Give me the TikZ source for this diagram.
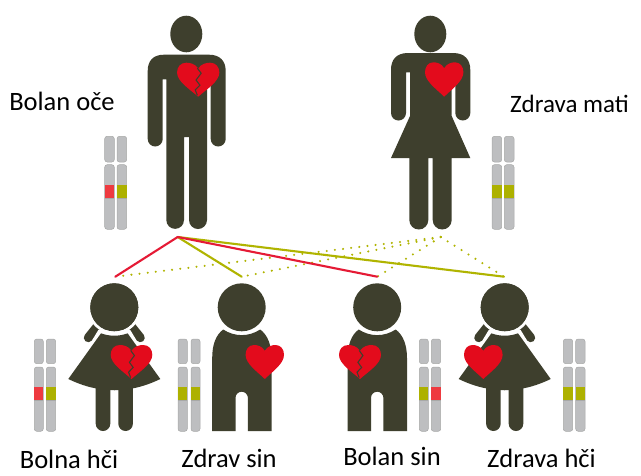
\documentclass[tikz,border=0pt]{standalone}
\usepackage{fontspec}
\setmainfont{Carlito}
\definecolor{body}{HTML}{3E3F2D}
\definecolor{hrt}{HTML}{E30B1C}
\definecolor{chr}{HTML}{BDBEC0}
\definecolor{chredge}{HTML}{A8A9A8}
\definecolor{bandr}{HTML}{EE3A40}
\definecolor{bando}{HTML}{ADB100}
\definecolor{liner}{HTML}{E51A35}
\definecolor{lineo}{HTML}{B0B400}
\tikzset{
  limb/.style={draw=body,line width=9pt,line cap=round},
  inh/.style={line width=2.1pt,line cap=round},
  inhd/.style={line width=2.3pt,line cap=round,dash pattern=on 0pt off 8.2pt,color=lineo},
  lab/.style={font=\fontsize{26.5}{30}\selectfont,text=black,inner sep=0pt,anchor=base},
}
\newcommand\hrtshape[4]{%
  \begin{scope}[shift={(#1,#2)},x=#3pt,y=-#4pt]
    \fill[hrt] (0,.17) .. controls (.07,.03) and (.2,0) .. (.28,0)
      .. controls (.42,0) and (.5,.13) .. (.5,.29)
      .. controls (.5,.55) and (.2,.78) .. (0,1)
      .. controls (-.2,.78) and (-.5,.55) .. (-.5,.29)
      .. controls (-.5,.13) and (-.42,0) .. (-.28,0)
      .. controls (-.2,0) and (-.07,.03) .. (0,.17) -- cycle;
  \end{scope}}
\newcommand\crack[4]{%
  \begin{scope}[shift={(#1,#2)},x=#3pt,y=-#4pt]
    \draw[body,line width=1.1pt,line join=miter]
      (-.02,.16) -- (.07,.31) -- (-.05,.51) -- (.04,.66) -- (-.07,.80) -- (-.02,.96);
  \end{scope}}
\newcommand\chrom[9]{%
  \begin{scope}
  \filldraw[fill=chr,draw=chredge,line width=.5pt,rounded corners=2.5pt] (#1,#3) rectangle (#2,#4);
  \filldraw[fill=chr,draw=chredge,line width=.5pt,rounded corners=2.5pt] (#1,#5) rectangle (#2,#6);
  \fill[#9] (#1,#7) rectangle (#2,#8);
  \draw[chredge,line width=.5pt] (#1,#8) -- (#2,#8);
  \end{scope}}
\newcommand\girl[1]{%
  \begin{scope}[shift={(#1,0)}]
    \draw[limb] (-26,337.7) -- (-15,324);
    \draw[limb] (26,337.7) -- (15,324);
    \fill[white] (0,307.3) circle (27);
    \fill[body] (0,307.3) circle (24);
    \fill[white] (-16,330) -- (16,330) -- (22,340) -- (-22,340) -- cycle;
    \fill[body] (-13.3,333.3) .. controls (-5,336.5) and (5,336.5) .. (13.3,333.3)
       -- (46,379) .. controls (15,394) and (-15,394) .. (-46,379) -- cycle;
    \fill[body] (0,307.3) circle (24);
    \fill[body] (-18.6,385) -- (-18.6,423.7) arc[start angle=180,end angle=0,radius=7.3] -- (-4,385) -- cycle;
    \fill[body] (4,385) -- (4,423.7) arc[start angle=180,end angle=0,radius=7.3] -- (18.7,385) -- cycle;
  \end{scope}}
\newcommand\boy[1]{%
  \begin{scope}[shift={(#1,0)}]
    \fill[body] (0,307.3) circle (24);
    \fill[body] (-18.5,329.5) .. controls (-7,337) and (7,337) .. (18.5,329.5)
       .. controls (26,335) and (29.8,345) .. (29.8,358)
       -- (29.8,431) -- (6.2,431) -- (6.2,397.9) arc[start angle=0,end angle=-180,radius=6.2]
       -- (-6.2,431) -- (-29.5,431) -- (-29.5,358)
       .. controls (-29.5,345) and (-26,335) .. (-18.5,329.5) -- cycle;
  \end{scope}}
\begin{document}
\begin{tikzpicture}[x=1pt,y=-1pt]
\useasboundingbox (0,0) rectangle (641,475);
\fill[white] (0,0) rectangle (641,475);

% father
\fill[body] (186.3,34) ellipse [x radius=16,y radius=18.3];
\fill[body] (147.7,139) -- (147.7,71) .. controls (147.7,61) and (153,54.7) .. (164,54.7)
  -- (209,54.7) .. controls (220,54.7) and (225.7,61) .. (225.7,71) -- (225.7,139)
  arc[start angle=0,end angle=180,radius=7.5] -- (210.7,79.3) -- (207,79.3)
  -- (207,220) arc[start angle=0,end angle=180,radius=9] -- (189,137) -- (184,137)
  -- (184,220) arc[start angle=0,end angle=180,radius=8.85] -- (166.3,79.3) -- (162.7,79.3)
  -- (162.7,139) arc[start angle=0,end angle=180,radius=7.5] -- cycle;
\hrtshape{198.2}{62.7}{42.3}{34}
\crack{198.2}{62.7}{42.3}{34}

% mother
\fill[body] (430.3,34) ellipse [x radius=16,y radius=18.3];
\fill[body] (391,113) -- (391,70) .. controls (391,60) and (396,53) .. (408,53)
  -- (453,53) .. controls (465,53) and (470.3,60) .. (470.3,70) -- (470.3,113)
  arc[start angle=0,end angle=180,radius=7.5] -- (455.3,72.3) -- (451.7,72.3)
  -- (451.7,116) -- (470.3,158) -- (451.7,158) -- (451.7,220)
  arc[start angle=0,end angle=180,radius=9.5] -- (432.7,158) -- (428.3,158)
  -- (428.3,220) arc[start angle=0,end angle=180,radius=9.5] -- (409.3,158)
  -- (391,158) -- (410,116) -- (410,72.3) -- (406,72.3) -- (406,113)
  arc[start angle=0,end angle=180,radius=7.5] -- cycle;
\hrtshape{444.2}{62.3}{38.4}{34.4}

% children
\girl{114.3}
\boy{241.7}
\boy{377.2}
\girl{504.7}
\hrtshape{131.5}{345}{41.6}{34}
\crack{131.5}{345}{41.6}{34}
\hrtshape{264.8}{345}{38.4}{34}
\hrtshape{360}{345}{42}{34}
\crack{360}{345}{42}{34}
\hrtshape{483.3}{345}{38.6}{34}

% chromosomes
\chrom{104.7}{114.3}{136.3}{162}{164.7}{229.3}{184.7}{198}{bandr}
\chrom{117}{126.7}{136.3}{162}{164.7}{229.3}{184.7}{198}{bando}
\chrom{492}{501.7}{136.3}{162}{164.7}{229.3}{184.7}{198}{bando}
\chrom{504.3}{514}{136.3}{162}{164.7}{229.3}{184.7}{198}{bando}
\chrom{34.3}{43.3}{339}{363.7}{367}{431.3}{386.7}{400}{bandr}
\chrom{46.3}{55.7}{339}{363.7}{367}{431.3}{386.7}{400}{bando}
\chrom{178}{187.3}{339}{363.7}{367}{431.3}{386.7}{400}{bando}
\chrom{191}{200}{339}{363.7}{367}{431.3}{386.7}{400}{bando}
\chrom{419.3}{428.3}{339}{363.7}{367}{431.3}{386.7}{400}{bando}
\chrom{431.3}{440.7}{339}{363.7}{367}{431.3}{386.7}{400}{bandr}
\chrom{563.3}{572.7}{339}{363.7}{367}{431.3}{386.7}{400}{bando}
\chrom{575.7}{585}{339}{363.7}{367}{431.3}{386.7}{400}{bando}

% inheritance lines
\coordinate (fa) at (177.7,237);
\coordinate (mo) at (440.7,237);
\coordinate (c1) at (115.3,276.7);
\coordinate (c2) at (241.7,276.7);
\coordinate (c3) at (377.3,276.7);
\coordinate (c4) at (504,276.7);
\draw[inhd] (mo) -- (c1);
\draw[inhd] (mo) -- (c2);
\draw[inhd] (mo) -- (c3);
\draw[inhd] (mo) -- (c4);
\draw[inh,lineo] (fa) -- (c2);
\draw[inh,lineo] (fa) -- (c4);
\draw[inh,liner] (fa) -- (c1);
\draw[inh,liner] (fa) -- (c3);

% labels
\node[lab] (tfa) at (62,110) {Bolan oče};
\node[lab,font=\fontsize{25}{28}\selectfont] (tmo) at (569.5,112) {Zdrava mati};
\node[lab] (tc1) at (69,468.5) {Bolna hči};
\node[lab] (tc2) at (229,467) {Zdrav sin};
\node[lab] (tc3) at (392,465) {Bolan sin};
\node[lab] (tc4) at (541.5,467) {Zdrava hči};
\end{tikzpicture}
\end{document}
